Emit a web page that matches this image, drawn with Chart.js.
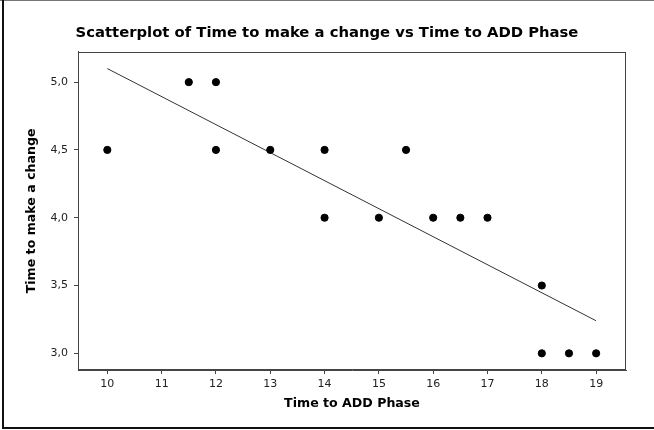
<!DOCTYPE html>
<html>
<head>
<meta charset="utf-8">
<script src="https://cdn.jsdelivr.net/npm/chart.js@4"></script>
<style>
  html, body { margin: 0; padding: 0; background: #fff; }
  #wrap { width: 654px; height: 430px; }
</style>
</head>
<body>
<div id="wrap"><canvas id="myChart" width="654" height="430"></canvas></div>
<script>
// data
const addPhase = [10, 11.5, 12, 12, 13, 14, 14, 15, 15.5, 16, 16.5, 17, 18, 18, 18.5, 19];
const changeTime = [4.5, 5.0, 5.0, 4.5, 4.5, 4.5, 4.0, 4.0, 4.5, 4.0, 4.0, 4.0, 3.5, 3.0, 3.0, 3.0];
const fitX = [10, 19];
const fitY = [5.1, 3.24];
const xTicks = [10, 11, 12, 13, 14, 15, 16, 17, 18, 19];
const yTicks = [3.0, 3.5, 4.0, 4.5, 5.0];

const points = addPhase.map((x, i) => ({ x: x, y: changeTime[i] }));
const fitLine = fitX.map((x, i) => ({ x: x, y: fitY[i] }));

// plot box outline and the outer frame
const framePlugin = {
    id: 'frame',
    afterDraw(chart) {
        const ctx = chart.ctx;
        const a = chart.chartArea;
        ctx.save();
        ctx.strokeStyle = '#444';
        ctx.lineWidth = 1;
        ctx.strokeRect(Math.round(a.left) + 0.5, Math.round(a.top) + 0.5,
            Math.round(a.right - a.left) - 1, Math.round(a.bottom - a.top) - 1);
        // outer frame: gray top, dark left and bottom
        ctx.strokeStyle = '#777';
        ctx.beginPath(); ctx.moveTo(0, 0.5); ctx.lineTo(654, 0.5); ctx.stroke();
        ctx.strokeStyle = '#111';
        ctx.lineWidth = 2;
        ctx.beginPath(); ctx.moveTo(3, 0); ctx.lineTo(3, 428); ctx.lineTo(654, 428); ctx.stroke();
        ctx.restore();
    }
};

const tickFont = { family: 'DejaVu Sans', size: 11 };
const titleFont = { family: 'DejaVu Sans', size: 12.6, weight: 'bold' };

new Chart(document.getElementById('myChart').getContext('2d'), {
    type: 'scatter',
    data: {
        datasets: [{
            label: 'Data',
            data: points,
            backgroundColor: '#000',
            borderColor: '#000',
            pointRadius: 3.6,
            pointHoverRadius: 3.6
        }, {
            label: 'Fit',
            type: 'line',
            data: fitLine,
            borderColor: '#333',
            borderWidth: 1,
            pointRadius: 0,
            fill: false
        }]
    },
    options: {
        responsive: false,
        animation: false,
        layout: { padding: 0 },
        plugins: {
            legend: { display: false },
            tooltip: { enabled: false },
            title: {
                display: true,
                text: 'Scatterplot of Time to make a change vs Time to ADD Phase',
                color: '#000',
                font: { family: 'DejaVu Sans', size: 14.8, weight: 'bold' },
                padding: { top: 24, bottom: 10 }
            }
        },
        scales: {
            x: {
                type: 'linear',
                min: 9.46,
                max: 19.55,
                afterBuildTicks: axis => { axis.ticks = xTicks.map(v => ({ value: v })); },
                afterFit: axis => { axis.height = 60; },
                grid: { drawOnChartArea: false, drawTicks: true, tickLength: 4, color: '#444' },
                border: { display: true, color: '#444' },
                ticks: { color: '#222', font: tickFont, padding: 4, maxRotation: 0 },
                title: {
                    display: true,
                    text: 'Time to ADD Phase',
                    color: '#000',
                    font: titleFont,
                    padding: { top: 0, bottom: 19 }
                }
            },
            y: {
                type: 'linear',
                min: 2.877,
                max: 5.224,
                afterBuildTicks: axis => { axis.ticks = yTicks.map(v => ({ value: v })); },
                afterFit: axis => { axis.width = 78; },
                grid: { drawOnChartArea: false, drawTicks: true, tickLength: 4, color: '#444' },
                border: { display: true, color: '#444' },
                ticks: {
                    color: '#222',
                    font: tickFont,
                    padding: 6,
                    callback: v => v.toFixed(1).replace('.', ',')
                },
                title: {
                    display: true,
                    text: 'Time to make a change',
                    color: '#000',
                    font: titleFont,
                    padding: { top: 24, bottom: 0 }
                }
            },
            // empty right-hand strip so the title centres on the whole page
            yRight: {
                type: 'linear',
                position: 'right',
                min: 2.877,
                max: 5.224,
                afterFit: axis => { axis.width = 28; },
                grid: { display: false },
                border: { display: false },
                ticks: { display: false }
            }
        }
    },
    plugins: [framePlugin]
});
</script>
</body>
</html>
